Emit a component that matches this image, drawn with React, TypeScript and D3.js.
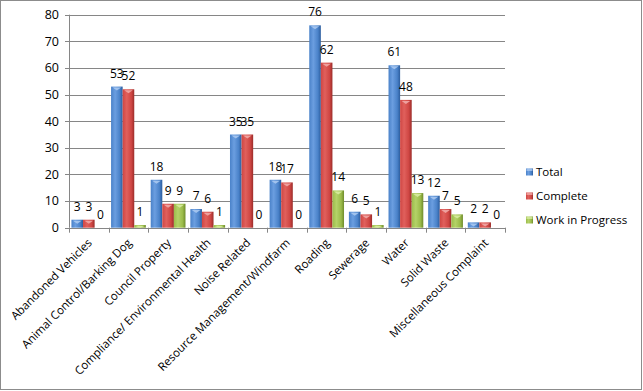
import React from "react";
import * as d3 from "d3";

const categories = [
  "Abandoned Vehicles",
  "Animal Control/Barking Dog",
  "Council Property",
  "Compliance/ Environmental Health",
  "Noise Related",
  "Resource Management/Windfarm",
  "Roading",
  "Sewerage",
  "Water",
  "Solid Waste",
  "Miscellaneous Complaint",
];
const seriesNames = ["Total", "Complete", "Work in Progress"];
const total = [3, 53, 18, 7, 35, 18, 76, 6, 61, 12, 2];
const complete = [3, 52, 9, 6, 35, 17, 62, 5, 48, 7, 2];
const wip = [0, 1, 9, 1, 0, 0, 14, 1, 13, 5, 0];
const yTicks = [0, 10, 20, 30, 40, 50, 60, 70, 80];

const colors = [
  { dark: "#2c5d9e", mid: "#4a82c9", light: "#6b9ee0", top: "#a9c8f0" },
  { dark: "#9c2d2a", mid: "#cf4643", light: "#e0605c", top: "#f0a9a6" },
  { dark: "#6f8c2c", mid: "#9bbb4a", light: "#b4d268", top: "#d7eca0" },
];

const W = 643;
const H = 391;
const left = 69;
const right = 505;
const top = 14.7;
const bottom = 227.7;
const FONT = "'Open Sans', sans-serif";

export default function App() {
  const series = [total, complete, wip];
  const x = d3.scaleBand<string>().domain(categories).range([left, right]).paddingInner(0).paddingOuter(0);
  const y = d3.scaleLinear().domain([0, 80]).range([bottom, top]);
  const inner = d3
    .scaleBand<number>()
    .domain([0, 1, 2])
    .range([0, x.bandwidth()])
    .paddingInner(0)
    .paddingOuter(0.21);

  return (
    <svg width={W} height={H} style={{ position: "absolute", left: 0, top: 0, background: "#fff" }}>
      <defs>
        {colors.map((c, i) => (
          <linearGradient key={i} id={`g${i}`} x1="0" x2="1" y1="0" y2="0">
            <stop offset="0" stopColor={c.mid} />
            <stop offset="0.35" stopColor={c.light} />
            <stop offset="0.75" stopColor={c.mid} />
            <stop offset="1" stopColor={c.dark} />
          </linearGradient>
        ))}
      </defs>
      <rect x={0.5} y={0.5} width={W - 2} height={H - 2} fill="#fff" stroke="#8c8c8c" strokeWidth={1} />
      {yTicks.map((t) => (
        <g key={t}>
          <line x1={left - 4} x2={right} y1={Math.round(y(t)) + 0.5} y2={Math.round(y(t)) + 0.5} stroke="#868686" strokeWidth={1} />
          <text x={59} y={y(t)} dy="0.35em" textAnchor="end" fontFamily={FONT} fontSize={12.5} fill="#000">
            {t}
          </text>
        </g>
      ))}
      <line x1={left + 0.5} x2={left + 0.5} y1={top} y2={bottom} stroke="#868686" />
      {categories.map((c) => (
        <line key={c} x1={Math.round(x(c)!) + 0.5} x2={Math.round(x(c)!) + 0.5} y1={bottom} y2={bottom + 5} stroke="#868686" />
      ))}
      <line x1={Math.round(right) + 0.5} x2={Math.round(right) + 0.5} y1={bottom} y2={bottom + 5} stroke="#868686" />
      {categories.map((c, ci) => (
        <g key={c}>
          {series.map((s, si) => {
            const v = s[ci];
            const bx = x(c)! + inner(si)!;
            const bw = inner.bandwidth();
            const by = y(v);
            const bh = bottom - by;
            return (
              <g key={si}>
                {bh > 0 && (
                  <>
                    <rect x={bx} y={by} width={bw} height={bh} fill={`url(#g${si})`} />
                    <path
                      d={`M${bx + 1.5},${by + 1} L${bx + bw - 1.5},${by + 1} L${bx + bw / 2},${by + Math.min(4, bh)} Z`}
                      fill={colors[si].top}
                      opacity={0.9}
                    />
                  </>
                )}
                <text x={bx + bw / 2} y={by - 9} textAnchor="middle" fontFamily={FONT} fontSize={12} fill="#000">
                  {v}
                </text>
              </g>
            );
          })}
        </g>
      ))}
      {categories.map((c) => {
        const cx = x(c)! + x.bandwidth() / 2 + 1;
        const cy = bottom + 13;
        return (
          <text
            key={c}
            transform={`translate(${cx},${cy}) rotate(-45)`}
            textAnchor="end"
            dy="0.35em"
            fontFamily={FONT}
            fontSize={11.5}
            fill="#000"
          >
            {c}
          </text>
        );
      })}
      {seriesNames.map((n, i) => (
        <g key={n} transform={`translate(526,${172 + i * 24})`}>
          <rect x={0} y={-3.5} width={7} height={7} fill={`url(#g${i})`} />
          <rect x={0.5} y={-3} width={6} height={2} fill={colors[i].top} opacity={0.8} />
          <text x={10} y={0} dy="0.35em" fontFamily={FONT} fontSize={11.5} fill="#000">
            {n}
          </text>
        </g>
      ))}
    </svg>
  );
}
